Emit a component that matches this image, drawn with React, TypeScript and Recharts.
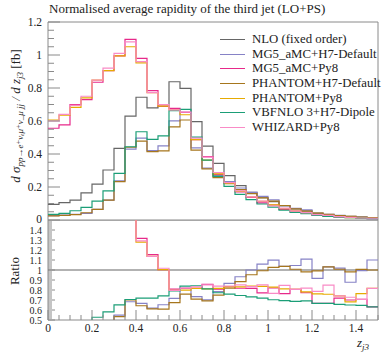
import { ComposedChart, Line, ReferenceArea, XAxis, YAxis } from "recharts";

// bin edges of z_j3 (bin width 0.05)
const edges = [
  0, 0.05, 0.1, 0.15, 0.2, 0.25, 0.3, 0.35, 0.4, 0.45, 0.5, 0.55, 0.6, 0.65, 0.7, 0.75,
  0.8, 0.85, 0.9, 0.95, 1.0, 1.05, 1.1, 1.15, 1.2, 1.25, 1.3, 1.35, 1.4, 1.45, 1.5,
];

const nlo = [0.095, 0.105, 0.121, 0.165, 0.218, 0.303, 0.434, 0.63, 0.744, 0.68, 0.688, 0.838, 0.798, 0.596, 0.448, 0.343, 0.269, 0.208, 0.168, 0.135, 0.111, 0.085, 0.067, 0.055, 0.042, 0.033, 0.027, 0.022, 0.017, 0.013];
const mg5H7 = [0.027, 0.03, 0.035, 0.04, 0.065, 0.121, 0.238, 0.43, 0.496, 0.421, 0.449, 0.601, 0.652, 0.437, 0.314, 0.269, 0.233, 0.194, 0.168, 0.143, 0.122, 0.088, 0.07, 0.061, 0.0385, 0.034, 0.0275, 0.0193, 0.0169, 0.0143];
const mg5Py8 = [0.556, 0.576, 0.7, 0.73, 0.835, 0.905, 0.995, 1.095, 0.98, 0.784, 0.69, 0.677, 0.652, 0.487, 0.384, 0.277, 0.224, 0.17, 0.137, 0.104, 0.091, 0.065, 0.054, 0.0425, 0.028, 0.022, 0.0194, 0.0154, 0.012, 0.0082];
const phantomH7 = [0.025, 0.028, 0.033, 0.044, 0.065, 0.121, 0.232, 0.441, 0.478, 0.415, 0.419, 0.564, 0.606, 0.423, 0.31, 0.257, 0.22, 0.184, 0.16, 0.134, 0.114, 0.088, 0.0675, 0.054, 0.0416, 0.034, 0.0272, 0.0216, 0.0171, 0.013];
const phantomPy8 = [0.606, 0.636, 0.683, 0.74, 0.848, 0.905, 0.995, 1.05, 0.952, 0.772, 0.69, 0.667, 0.638, 0.487, 0.363, 0.28, 0.224, 0.173, 0.141, 0.113, 0.092, 0.069, 0.054, 0.043, 0.032, 0.025, 0.02, 0.015, 0.013, 0.0106];
const vbfnlo = [0.034, 0.04, 0.056, 0.077, 0.115, 0.176, 0.283, 0.444, 0.535, 0.489, 0.51, 0.662, 0.67, 0.502, 0.363, 0.265, 0.204, 0.155, 0.123, 0.097, 0.078, 0.059, 0.046, 0.038, 0.028, 0.022, 0.0177, 0.0143, 0.011, 0.0082];
const whizard = [0.6, 0.64, 0.695, 0.75, 0.848, 0.92, 1.01, 1.08, 0.96, 0.772, 0.7, 0.667, 0.654, 0.496, 0.381, 0.288, 0.226, 0.177, 0.14, 0.115, 0.085, 0.072, 0.054, 0.045, 0.033, 0.028, 0.02, 0.016, 0.012, 0.0106];

const series = [
  { key: "nlo", name: "NLO (fixed order)", color: "#666666", values: nlo },
  { key: "mg5H7", name: "MG5_aMC+H7-Default", color: "#8682c6", values: mg5H7 },
  { key: "mg5Py8", name: "MG5_aMC+Py8", color: "#e7298a", values: mg5Py8 },
  { key: "phantomH7", name: "PHANTOM+H7-Default", color: "#a6761d", values: phantomH7 },
  { key: "phantomPy8", name: "PHANTOM+Py8", color: "#e6ab02", values: phantomPy8 },
  { key: "vbfnlo", name: "VBFNLO 3+H7-Dipole", color: "#1b9e77", values: vbfnlo },
  { key: "whizard", name: "WHIZARD+Py8", color: "#f98bc6", values: whizard },
];

const mainMajor = [0, 0.2, 0.4, 0.6, 0.8, 1, 1.2];
const ratioMajor = [0.5, 0.6, 0.7, 0.8, 0.9, 1, 1.1, 1.2, 1.3, 1.4];
const xMajor = [0, 0.2, 0.4, 0.6, 0.8, 1, 1.2, 1.4];

const FONT = '"Liberation Serif", "DejaVu Serif", serif';
const FRAME = "#8a8a8a";
const TXT = "#222";

// step histogram rows: value of a bin sits on its left edge, last edge repeats
const mainData = edges.map((x, i) => {
  const row: Record<string, number> = { x };
  series.forEach((s) => (row[s.key] = s.values[Math.min(i, s.values.length - 1)]));
  return row;
});
const ratioData = edges.map((x, i) => {
  const j = Math.min(i, nlo.length - 1);
  const row: Record<string, number> = { x };
  series.forEach((s) => (row[s.key] = s.values[j] / nlo[j]));
  return row;
});

const steps = (from: number, to: number, step: number) => {
  const out: number[] = [];
  for (let v = from; v <= to + 1e-9; v += step) out.push(Math.round(v * 1000) / 1000);
  return out;
};
const isIn = (v: number, list: number[]) => list.some((m) => Math.abs(m - v) < 1e-6);
const fmt = (v: number) => String(Math.round(v * 10) / 10);

const makeYTick = (major: number[], majorLen: number, minorLen: number, size: number, lift = 0) =>
  function YTick(props: any) {
    const { x, y, payload } = props;
    const v = payload.value as number;
    const isMajor = isIn(v, major);
    const ax = x + 5;
    return (
      <g>
        <line x1={ax} x2={ax + (isMajor ? majorLen : minorLen)} y1={y} y2={y} stroke={FRAME} />
        {isMajor && (
          <text
            x={x - 1}
            y={v === 0 ? y - lift : y}
            dy="0.35em"
            textAnchor="end"
            fontSize={size}
            fontFamily={FONT}
            fill={TXT}
          >
            {fmt(v)}
          </text>
        )}
      </g>
    );
  };

const makeXTick = (withLabel: boolean) =>
  function XTick(props: any) {
    const { x, y, payload } = props;
    const v = payload.value as number;
    const isMajor = isIn(v, xMajor);
    return (
      <g>
        <line x1={x} x2={x} y1={y} y2={y - (isMajor ? 10 : 5)} stroke={FRAME} />
        {withLabel && isMajor && (
          <text x={x} y={y + 12} textAnchor="middle" fontSize={11.5} fontFamily={FONT} fill={TXT}>
            {fmt(v)}
          </text>
        )}
      </g>
    );
  };

const MainYTick = makeYTick(mainMajor, 12, 6, 11.5, 1);
const RatioYTick = makeYTick(ratioMajor, 7, 4, 10);
const MainXTick = makeXTick(false);
const RatioXTick = makeXTick(true);

function LegendBox() {
  return (
    <div style={{ position: "absolute", left: 220, top: 32, fontFamily: FONT, fontSize: 12.8, color: TXT, whiteSpace: "nowrap" }}>
      {series.map((s) => (
        <div key={s.key} style={{ display: "flex", alignItems: "center", height: 14.7 }}>
          <span style={{ width: 25, height: 1, background: s.color, marginRight: 7 }} />
          <span>{s.name}</span>
        </div>
      ))}
    </div>
  );
}

export default function App() {
  return (
    <div style={{ position: "absolute", left: 0, top: 0, width: 390, height: 352, background: "#fff" }}>
      <div style={{ position: "absolute", left: 0, top: 0 }}>
        <ComposedChart width={390} height={235} data={mainData} margin={{ top: 22, right: 12, bottom: 15, left: 0 }}>
          <XAxis
            dataKey="x"
            type="number"
            domain={[0, 1.5]}
            ticks={steps(0, 1.5, 0.05)}
            interval={0}
            height={0}
            tickSize={0}
            tickMargin={0}
            axisLine={false}
            tickLine={false}
            tick={<MainXTick />}
          />
          <YAxis
            type="number"
            domain={[0, 1.2]}
            allowDataOverflow
            ticks={steps(0, 1.2, 0.05)}
            interval={0}
            width={48}
            tickSize={0}
            tickMargin={5}
            axisLine={false}
            tickLine={false}
            tick={<MainYTick />}
          />
          <ReferenceArea x1={0} x2={1.5} y1={0} y2={1.2} fill="none" stroke={FRAME} strokeWidth={1} />
          {series.map((s) => (
            <Line
              key={s.key}
              type="stepAfter"
              dataKey={s.key}
              name={s.name}
              stroke={s.color}
              strokeWidth={1.2}
              dot={false}
              activeDot={false}
              isAnimationActive={false}
            />
          ))}
        </ComposedChart>
      </div>
      <div style={{ position: "absolute", left: 0, top: 220 }}>
        <ComposedChart width={390} height={132} data={ratioData} margin={{ top: 0, right: 12, bottom: 0, left: 0 }}>
          <XAxis
            dataKey="x"
            type="number"
            domain={[0, 1.5]}
            ticks={steps(0, 1.5, 0.05)}
            interval={0}
            height={32}
            tickSize={0}
            tickMargin={0}
            axisLine={false}
            tickLine={false}
            tick={<RatioXTick />}
          />
          <YAxis
            type="number"
            domain={[0.5, 1.5]}
            allowDataOverflow
            ticks={steps(0.5, 1.48, 0.02)}
            interval={0}
            width={48}
            tickSize={0}
            tickMargin={5}
            axisLine={false}
            tickLine={false}
            tick={<RatioYTick />}
          />
          <ReferenceArea x1={0} x2={1.5} y1={0.5} y2={1.5} fill="none" stroke={FRAME} strokeWidth={1} />
          {series.map((s) => (
            <Line
              key={s.key}
              type="stepAfter"
              dataKey={s.key}
              name={s.name}
              stroke={s.color}
              strokeWidth={1.2}
              dot={false}
              activeDot={false}
              isAnimationActive={false}
            />
          ))}
        </ComposedChart>
      </div>
      <LegendBox />
      <svg width={390} height={352} style={{ position: "absolute", left: 0, top: 0, pointerEvents: "none" }}>
        <text x={49} y={13} fontFamily={FONT} fontSize={13} fill={TXT}>
          Normalised average rapidity of the third jet (LO+PS)
        </text>
        <text transform="translate(20,116) rotate(-90)" textAnchor="middle" fontFamily={FONT} fontSize={13} fill={TXT} fontStyle="italic">
          d σ
          <tspan dy={3} fontSize={9}>pp→e⁺νₑμ⁺ν_μ jj</tspan>
          <tspan dy={-3}> / d z</tspan>
          <tspan dy={3} fontSize={9}>j3</tspan>
          <tspan dy={-3} fontStyle="normal"> [fb]</tspan>
        </text>
        <text transform="translate(19,271) rotate(-90)" textAnchor="middle" fontFamily={FONT} fontSize={13} fill={TXT}>
          Ratio
        </text>
        <text x={357} y={347} fontFamily={FONT} fontSize={13} fill={TXT} fontStyle="italic">
          z<tspan dy={3} fontSize={9}>j3</tspan>
        </text>
      </svg>
    </div>
  );
}
